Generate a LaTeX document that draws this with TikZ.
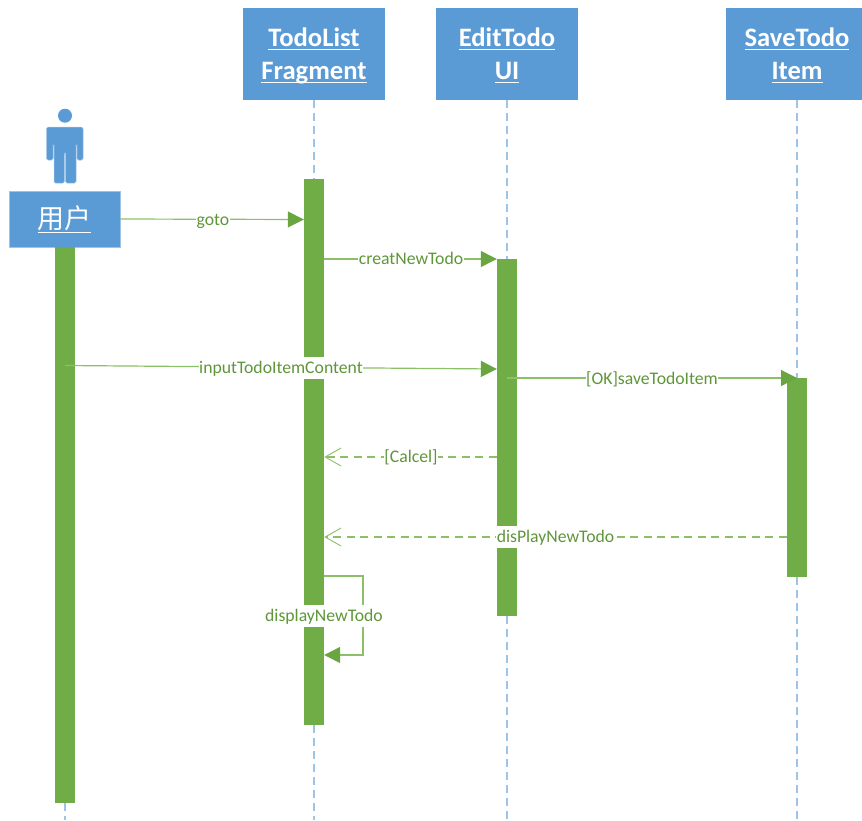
\documentclass[tikz,border=0pt]{standalone}
\usepackage{fontspec}
\setmainfont{Carlito}
\newfontfamily\cjk{Noto Sans CJK SC}
\usetikzlibrary{arrows.meta}
\definecolor{boxblue}{HTML}{5B9BD5}
\definecolor{lifeblue}{HTML}{9DC3E6}
\definecolor{bargreen}{HTML}{70AD47}
\definecolor{linegreen}{HTML}{8CC068}
\definecolor{tipgreen}{HTML}{6AA63F}
\definecolor{textgreen}{HTML}{5F9639}
\newcommand{\headul}[1]{\underline{\raisebox{-2pt}[\height][3.5pt]{#1}}}
\tikzset{
  headbox/.style={fill=boxblue,text=white,inner sep=0pt,minimum width=142pt,minimum height=92pt,align=center,font=\fontsize{26.6}{33}\selectfont\bfseries},
  userbox/.style={fill=boxblue,draw=boxblue!60!white,line width=0.8pt,text=white,inner sep=0pt,minimum width=111pt,minimum height=56pt,font=\fontsize{27}{30}\selectfont\cjk},
  actbar/.style={fill=bargreen,inner sep=0pt,minimum width=20pt},
  lifeline/.style={draw=lifeblue,line width=1.1pt,dash pattern=on 8pt off 5pt},
  msg/.style={draw=linegreen,line width=1.2pt,-{Triangle[length=16pt,width=16pt,color=tipgreen]}},
  reply/.style={draw=linegreen,line width=1.2pt,dash pattern=on 8pt off 5.5pt,-{Straight Barb[length=16pt,width=18pt,color=linegreen,line width=0.9pt]}},
  lbl/.style={fill=white,text=textgreen,inner xsep=0.5pt,inner ysep=0pt,minimum height=22pt,text height=13pt,text depth=3pt,font=\fontsize{17.7}{20}\selectfont},
}
\begin{document}
\begin{tikzpicture}[x=1pt,y=-1pt]
\useasboundingbox (0,0) rectangle (862,820);
\clip (0,0) rectangle (862,820);
% heads
\node[headbox] (todo) at (314,54) {\headul{TodoList}\\\headul{Fragment}};
\node[headbox] (edit) at (507,54) {\headul{EditTodo}\\\headul{UI}};
\node[headbox] (save) at (797,54) {\headul{SaveTodo}\\\headul{Item}};
\node[userbox] (user) at (64.5,219) {\underline{用户}};
% actor
\node[circle,fill=boxblue,inner sep=0pt,minimum size=14pt] (acthead) at (65,115.7) {};
\fill[boxblue,draw=boxblue!60!white,line width=0.5pt,rounded corners=1.5pt] (46.5,160) -- (46.5,127) -- (83,127) -- (83,160) -- (77,160) -- (77,145) -- (76,145) -- (76,183) -- (65.6,183) -- (65.6,153) -- (64.4,153) -- (64.4,183) -- (54,183) -- (54,145) -- (53,145) -- (53,160) -- cycle;
% activation bars
\node[actbar,minimum height=556pt] (barU) at (65,525) {};
\node[actbar,minimum height=546pt] (barT) at (314,452) {};
\node[actbar,minimum height=357pt] (barE) at (507,437.5) {};
\node[actbar,minimum height=199pt] (barS) at (797,477.5) {};
% lifelines
\draw[lifeline] (todo.south) -- (barT.north);
\draw[lifeline] (barT.south) -- (314,820);
\draw[lifeline] (edit.south) -- (barE.north);
\draw[lifeline] (barE.south) -- (507,820);
\draw[lifeline] (save.south) -- (barS.north);
\draw[lifeline] (barS.south) -- (797,820);
\draw[lifeline] (barU.south) -- (65,820);
% messages
\draw[msg] (user.east) -- (barT.west |- 0,219.5);
\draw[msg] (barT.east |- 0,259) -- (barE.west |- 0,259);
\draw[msg] (barU.center |- 0,365.5) -- (barE.west |- 0,369);
\draw[msg] (barE.center |- 0,378) -- (barS.center |- 0,378);
\draw[reply] (barE.west |- 0,457) -- (barT.east |- 0,457);
\draw[reply] (barS.west |- 0,537) -- (barT.east |- 0,537);
\draw[msg] (barT.east |- 0,576) -- (363,576) -- (363,655) -- (barT.east |- 0,655);
% labels
\node[lbl] (l1) at (213,220) {goto};
\node[lbl] (l2) at (411,259.5) {creatNewTodo};
\node[lbl] (l3) at (281,368) {inputTodoItemContent};
\node[lbl] (l4) at (652,379) {[OK]saveTodoItem};
\node[lbl] (l5) at (411,457.5) {[Calcel]};
\node[lbl] (l6) at (555.5,537) {disPlayNewTodo};
\node[lbl] (l7) at (324,616) {displayNewTodo};
\end{tikzpicture}
\end{document}
